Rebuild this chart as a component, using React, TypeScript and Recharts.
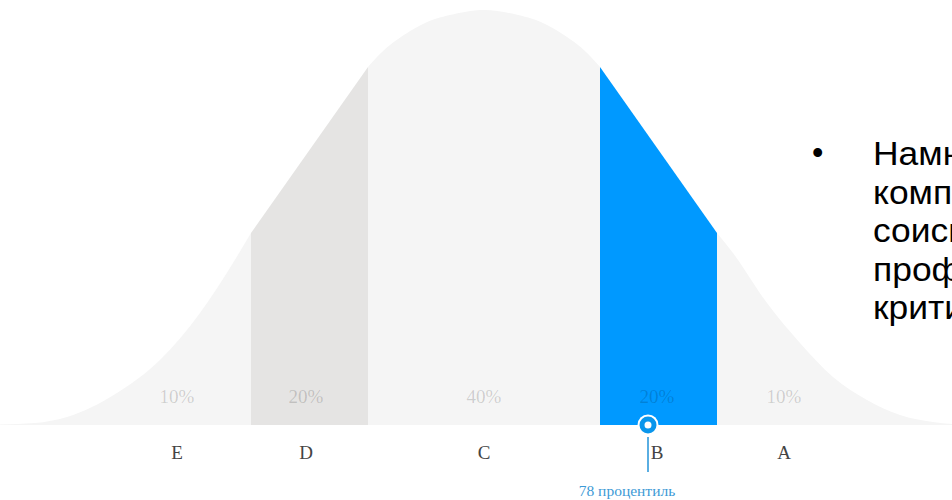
import React from 'react';
import { ComposedChart, Area, XAxis, YAxis, ReferenceDot } from 'recharts';

// Curve samples (x along the scale, height of the bell)
const curveX = [0, 35, 67, 117, 160, 200, 233, 251, 368, 390, 423, 450, 484, 518, 545, 578, 600, 717, 733, 767, 800, 833, 867, 900, 933, 952];
const curveH = [0.5, 2, 8, 32, 65, 112, 162, 192, 358, 380, 401, 410, 415, 410, 401, 380, 358, 192, 172, 122, 82, 48, 25, 10, 3, 1];

// Bands
const bandKeys = ['E', 'D', 'C', 'B', 'A'];
const bandEdges = [0, 251, 368, 600, 717, 952];
const bandColors = ['#f5f5f5', '#e5e4e3', '#f5f5f5', '#0099ff', '#f5f5f5'];
const bandCurves = ['monotone', 'linear', 'natural', 'linear', 'monotone'];

// Labels
const categories = ['E', 'D', 'C', 'B', 'A'];
const categoryX = [177, 306, 484, 657, 784];
const shares = ['10%', '20%', '40%', '20%', '10%'];

// Marker
const percentile = 78;
const markerX = 648;

// Side text
const bulletLines = ['Намного', 'компании', 'соискателя', 'профессии', 'критически'];

const data = curveX.map((x, i) => {
  const row: Record<string, number | null> = { x };
  bandKeys.forEach((k, b) => {
    row[k] = x >= bandEdges[b] && x <= bandEdges[b + 1] ? curveH[i] : null;
  });
  return row;
});

const serif = '"Liberation Serif", "DejaVu Serif", serif';

const CategoryTick = (props: any) => {
  const { x, y, payload } = props;
  const i = categoryX.indexOf(payload.value);
  return (
    <g>
      <text x={x} y={y - 22} textAnchor="middle" fontFamily={serif} fontSize={19} fill="rgba(0,0,0,0.17)">
        {shares[i]}
      </text>
      <text x={x} y={y + 34} textAnchor="middle" fontFamily={serif} fontSize={19} fill="#444444">
        {categories[i]}
      </text>
    </g>
  );
};

const MarkerShape = (props: any) => {
  const { cx, cy } = props;
  return (
    <g>
      <circle cx={cx} cy={cy} r={10.5} fill="#ffffff" />
      <circle cx={cx} cy={cy} r={6} fill="#ffffff" stroke="#0a96ec" strokeWidth={5} />
      <line x1={cx} y1={cy + 12} x2={cx} y2={cy + 47} stroke="#5aaee2" strokeWidth={2} />
      <text x={cx - 21} y={cy + 71} textAnchor="middle" fontFamily={serif} fontSize={15.5} fill="#3d9ad6">
        {`${percentile} процентиль`}
      </text>
    </g>
  );
};

export default function App() {
  return (
    <div style={{ position: 'fixed', left: 0, top: 0, width: 952, height: 500, overflow: 'hidden', background: '#ffffff' }}>
      <ComposedChart width={952} height={500} data={data} margin={{ top: 0, right: 0, bottom: 0, left: 0 }}>
        <YAxis hide type="number" domain={[0, 425]} />
        {bandKeys.map((k, b) => (
          <Area
            key={k}
            type={bandCurves[b] as any}
            dataKey={k}
            fill={bandColors[b]}
            fillOpacity={1}
            stroke="none"
            isAnimationActive={false}
            connectNulls={false}
            dot={false}
            activeDot={false}
          />
        ))}
        <XAxis
          type="number"
          dataKey="x"
          domain={[0, 952]}
          ticks={categoryX}
          tick={<CategoryTick />}
          axisLine={false}
          tickLine={false}
          tickSize={0}
          tickMargin={0}
          height={75}
          interval={0}
        />
        <ReferenceDot x={markerX} y={0} r={10} shape={<MarkerShape />} ifOverflow="visible" />
      </ComposedChart>
      <div style={{ position: 'absolute', left: 812, top: 135, fontFamily: '"Liberation Sans", Arial, sans-serif', fontSize: 32.5, lineHeight: '38.5px', color: '#000', whiteSpace: 'nowrap' }}>
        <span style={{ position: 'absolute', left: 0, top: -1 }}>•</span>
        {bulletLines.map((l) => (
          <div key={l} style={{ paddingLeft: 61 }}>
            <span style={{ display: 'inline-block', transform: 'scaleX(1.09)', transformOrigin: 'left center' }}>{l}</span>
          </div>
        ))}
      </div>
    </div>
  );
}
